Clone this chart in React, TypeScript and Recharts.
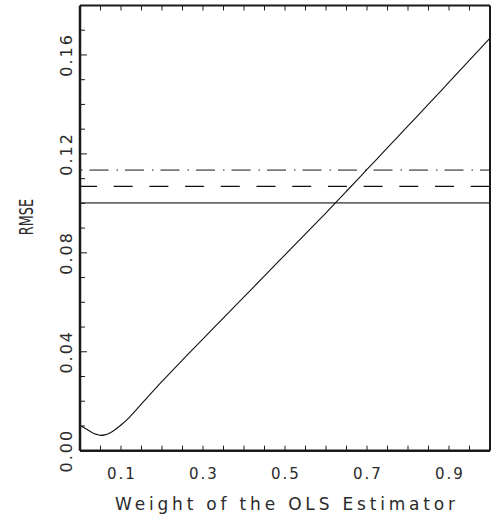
import React from 'react';
import { LineChart, Line, XAxis, YAxis, ReferenceLine, Label } from 'recharts';

// Weight given to the OLS estimator in the combined estimator
const weights = [
  0, 0.01, 0.02, 0.03, 0.04, 0.05, 0.06, 0.07, 0.08, 0.09, 0.1, 0.12, 0.15,
  0.2, 0.25, 0.3, 0.35, 0.4, 0.45, 0.5, 0.55, 0.6, 0.65, 0.7, 0.75, 0.8,
  0.85, 0.9, 0.95, 1.0,
];

// RMSE of the combined estimator at each weight
const rmseCombined = [
  0.0102, 0.0093, 0.0083, 0.0073, 0.0066, 0.0062, 0.0064, 0.0070, 0.0079,
  0.0091, 0.0104, 0.0134, 0.0189, 0.028, 0.0367, 0.0452, 0.0537, 0.0622,
  0.0707, 0.0792, 0.0877, 0.0962, 0.1049, 0.1137, 0.1225, 0.1313, 0.1401,
  0.149, 0.1579, 0.1668,
];

// RMSE of the competing estimators (constant in the weight)
const rmseSolid = 0.1002;
const rmseDashed = 0.1069;
const rmseDashDot = 0.1134;

const xTickValues = [
  0.05, 0.1, 0.15, 0.2, 0.25, 0.3, 0.35, 0.4, 0.45, 0.5, 0.55, 0.6, 0.65,
  0.7, 0.75, 0.8, 0.85, 0.9, 0.95,
];
const xTickLabels = ['0.1', '0.3', '0.5', '0.7', '0.9'];

const yTickValues = [
  0, 0.01, 0.02, 0.03, 0.04, 0.05, 0.06, 0.07, 0.08, 0.09, 0.1, 0.11, 0.12,
  0.13, 0.14, 0.15, 0.16, 0.17,
];
const yTickLabels = ['0.00', '0.04', '0.08', '0.12', '0.16'];

const chartData = weights.map((w, i) => ({ w, rmse: rmseCombined[i] }));

const FONT = '"DejaVu Sans", sans-serif';
const INK = '#1a1a1a';
const TEXT = '#2a2a2a';

const fmtX = (v: number) => v.toFixed(1);
const fmtY = (v: number) => v.toFixed(2);

const BottomTick = (props: any) => {
  const { x, y, payload } = props;
  const text = fmtX(payload.value);
  const labelled = xTickLabels.includes(text) && Math.abs(payload.value * 10 - Math.round(payload.value * 10)) < 1e-6;
  return (
    <g>
      <line x1={x} y1={y} x2={x} y2={y - 5} stroke={INK} strokeWidth={1} />
      {labelled && (
        <text
          x={x + 1}
          y={y + 28}
          textAnchor="middle"
          fontFamily={FONT}
          fontSize={15}
          letterSpacing={2}
          fill={TEXT}
        >
          {text}
        </text>
      )}
    </g>
  );
};

const TopTick = (props: any) => {
  const { x, y } = props;
  return <line x1={x} y1={y} x2={x} y2={y + 5} stroke={INK} strokeWidth={1} />;
};

const LeftTick = (props: any) => {
  const { x, y, payload } = props;
  const text = fmtY(payload.value);
  const major = yTickLabels.includes(text);
  return (
    <g>
      <line x1={x} y1={y} x2={x + (major ? 7 : 5)} y2={y} stroke={INK} strokeWidth={1} />
      {major && (
        <text
          x={x - 9}
          y={y + 1}
          transform={`rotate(-90 ${x - 9} ${y})`}
          textAnchor="middle"
          fontFamily={FONT}
          fontSize={16}
          letterSpacing={2}
          fill={TEXT}
        >
          {text}
        </text>
      )}
    </g>
  );
};

const RightTick = (props: any) => {
  const { x, y, payload } = props;
  const major = yTickLabels.includes(fmtY(payload.value));
  return <line x1={x} y1={y} x2={x - (major ? 7 : 5)} y2={y} stroke={INK} strokeWidth={1} />;
};

export default function App() {
  return (
    <div style={{ position: 'absolute', left: 0, top: 0 }}>
      <LineChart
        width={498}
        height={525}
        data={chartData}
        margin={{ top: 0.5, right: 0, bottom: 0, left: 0 }}
      >
        <XAxis
          dataKey="w"
          type="number"
          domain={[0, 1]}
          ticks={xTickValues}
          interval={0}
          height={74.3}
          tickSize={0}
          tickMargin={0}
          tick={<BottomTick />}
          axisLine={{ stroke: INK, strokeWidth: 2.5 }}
          tickLine={false}
        >
          <Label
            content={(p: any) => {
              const vb = p.viewBox;
              return (
                <text
                  x={vb.x + vb.width / 2}
                  y={vb.y + 59.5}
                  textAnchor="middle"
                  fontFamily={FONT}
                  fontSize={17}
                  textLength={340}
                  lengthAdjust="spacing"
                  fill={TEXT}
                >
                  Weight of the OLS Estimator
                </text>
              );
            }}
          />
        </XAxis>
        <XAxis
          xAxisId="top"
          dataKey="w"
          type="number"
          orientation="top"
          domain={[0, 1]}
          ticks={xTickValues}
          interval={0}
          height={5}
          tickSize={0}
          tickMargin={0}
          tick={<TopTick />}
          axisLine={{ stroke: INK, strokeWidth: 2 }}
          tickLine={false}
        />
        <YAxis
          type="number"
          domain={[0, 0.18]}
          ticks={yTickValues}
          interval={0}
          width={80}
          tickSize={0}
          tickMargin={0}
          tick={<LeftTick />}
          axisLine={{ stroke: INK, strokeWidth: 2.5 }}
          tickLine={false}
        >
          <Label
            content={(p: any) => {
              const vb = p.viewBox;
              const cx = 33;
              const cy = vb.y + vb.height / 2 - 11;
              return (
                <g transform={`translate(${cx} ${cy}) rotate(-90) scale(0.64 1)`}>
                  <text
                    x={0}
                    y={0}
                    textAnchor="middle"
                    fontFamily={FONT}
                    fontSize={20}
                    fill={TEXT}
                  >
                    RMSE
                  </text>
                </g>
              );
            }}
          />
        </YAxis>
        <YAxis
          yAxisId="right"
          type="number"
          orientation="right"
          domain={[0, 0.18]}
          ticks={yTickValues}
          interval={0}
          width={8}
          tickSize={0}
          tickMargin={0}
          tick={<RightTick />}
          axisLine={{ stroke: INK, strokeWidth: 2 }}
          tickLine={false}
        />
        <ReferenceLine y={rmseSolid} stroke="#6a6a6a" strokeWidth={1.7} />
        <ReferenceLine
          y={rmseDashed}
          stroke="#111"
          strokeWidth={1.2}
          strokeDasharray="19 16.7"
          strokeDashoffset={2}
        />
        <ReferenceLine
          y={rmseDashDot}
          stroke="#7a7a7a"
          strokeWidth={1.7}
          strokeDasharray="19 8 1.5 7"
          strokeDashoffset={26}
        />
        <Line
          type="monotone"
          dataKey="rmse"
          stroke="#111"
          strokeWidth={1.1}
          dot={false}
          activeDot={false}
          isAnimationActive={false}
        />
      </LineChart>
    </div>
  );
}
